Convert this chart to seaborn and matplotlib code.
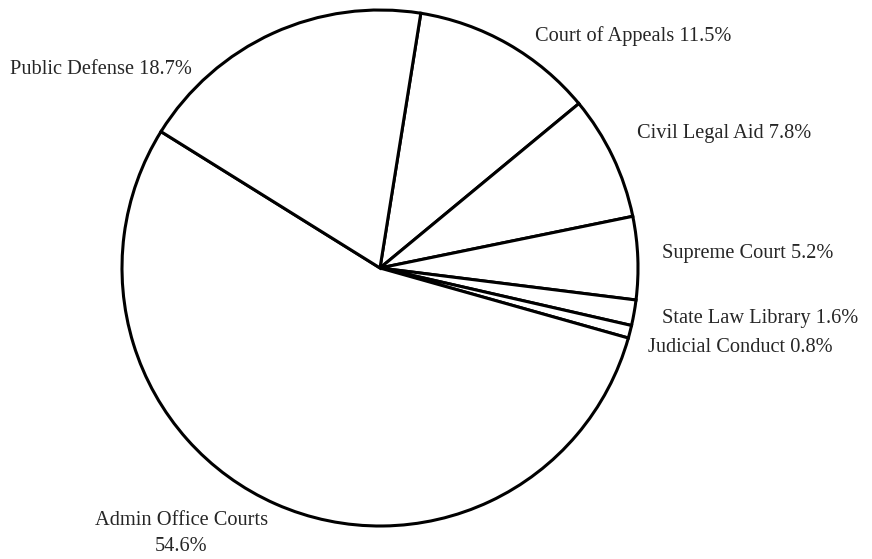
import matplotlib
matplotlib.use("Agg")
import matplotlib.pyplot as plt
import seaborn as sns

# Judicial branch budget shares (percent)
categories = ["Court of Appeals", "Civil Legal Aid", "Supreme Court",
              "State Law Library", "Judicial Conduct", "Admin Office Courts",
              "Public Defense"]
shares = [11.5, 7.8, 5.2, 1.6, 0.8, 54.6, 18.7]

sns.set_theme(style="white")
plt.rcParams["font.family"] = ["Liberation Serif", "DejaVu Serif"]

fig = plt.figure(figsize=(8.72, 5.59), dpi=100)
W, H = 872, 559
cx, cy, r = 380, 268, 258
ax = fig.add_axes([(cx - r) / W, (H - cy - r) / H, 2 * r / W, 2 * r / H])

ax.pie(shares, startangle=80.9, counterclock=False, radius=1,
       colors=["white"] * len(shares),
       wedgeprops=dict(edgecolor="black", linewidth=2.2, joinstyle="miter"))
ax.set_xlim(-1, 1)
ax.set_ylim(-1, 1)
ax.set_aspect("auto")
ax.axis("off")

# label anchors in pie coordinates (radius = 1) and their alignment
label_pos = [(0.601, 0.899, "left"), (0.996, 0.523, "left"), (1.093, 0.058, "left"),
             (1.093, -0.194, "left"), (1.039, -0.307, "left"),
             (-0.771, -1.028, "center"), (-0.729, 0.771, "right")]

for name, val, (x, y, ha) in zip(categories, shares, label_pos):
    sep = "\n" if ha == "center" else " "
    ax.text(x, y, f"{name}{sep}{val}%", ha=ha, va="center", fontsize=14.7,
            linespacing=1.5, clip_on=False)

fig.savefig("out.png", dpi=100, facecolor="white")
